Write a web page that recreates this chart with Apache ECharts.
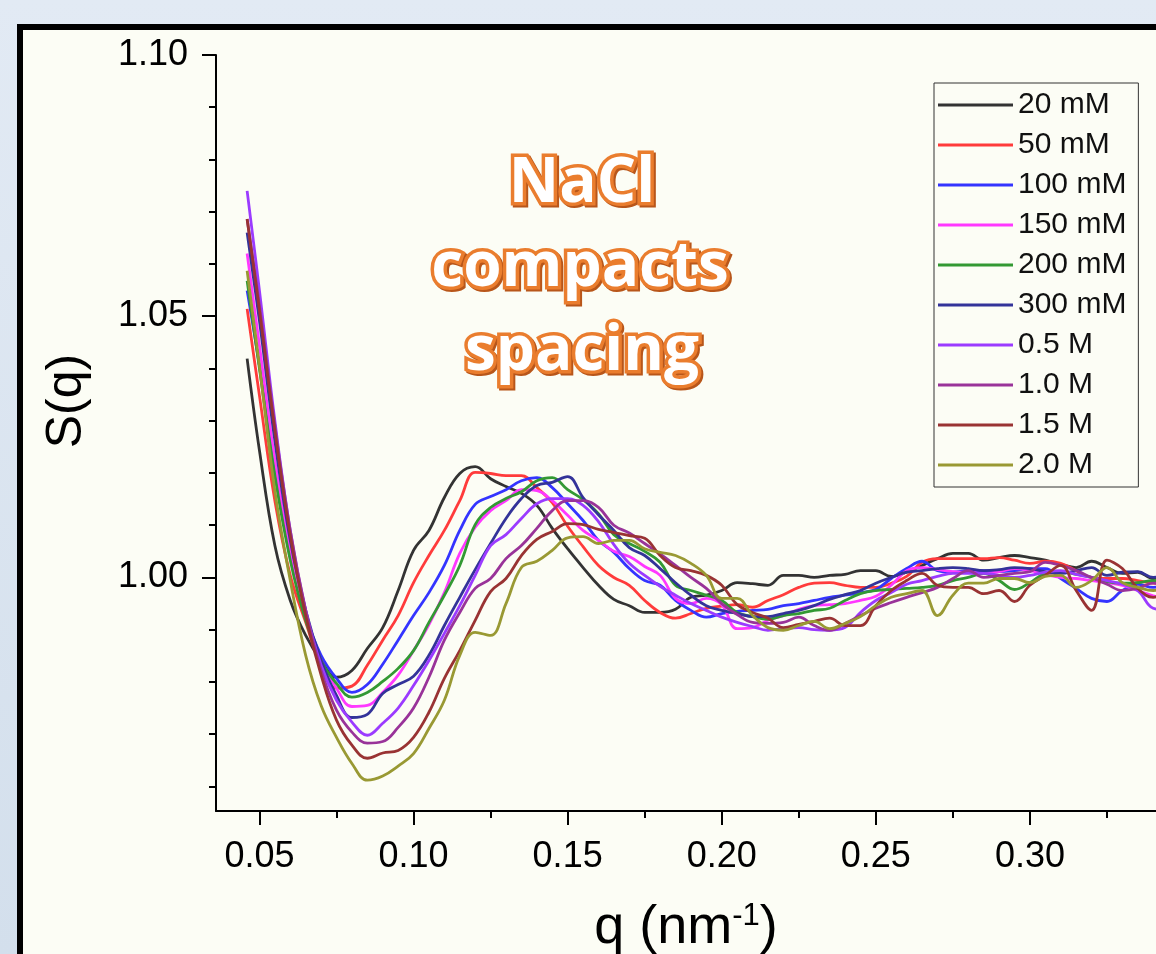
<!DOCTYPE html>
<html>
<head>
<meta charset="utf-8">
<script src="https://cdn.jsdelivr.net/npm/echarts@6/dist/echarts.min.js"></script>
<style>
html,body{margin:0;padding:0;background:#dae4f0;overflow:hidden;width:1156px;height:954px;}
#chart{width:1200px;height:954px;}
</style>
</head>
<body>
<div id="chart"></div>
<script>
// q (nm^-1)
var q = [0.046,0.05,0.055,0.06,0.065,0.07,0.075,0.08,0.085,0.09,0.095,0.10,0.105,0.11,0.115,0.12,0.125,0.13,0.135,0.14,0.145,0.15,0.155,0.16,0.165,0.17,0.175,0.18,0.185,0.19,0.195,0.20,0.205,0.21,0.215,0.22,0.225,0.23,0.235,0.24,0.245,0.25,0.255,0.26,0.265,0.27,0.275,0.28,0.285,0.29,0.295,0.30,0.305,0.31,0.315,0.32,0.325,0.33,0.335,0.34,0.345,0.35];

var seriesNames = ['20 mM','50 mM','100 mM','150 mM','200 mM','300 mM','0.5 M','1.0 M','1.5 M','2.0 M'];

var s20mM = [1.0419,1.0243,1.0061,0.9956,0.9889,0.9841,0.9809,0.9822,0.9864,0.9904,0.9975,1.0052,1.0090,1.0153,1.0199,1.0212,1.0189,1.0174,1.0161,1.0138,1.0094,1.0055,1.0019,0.9985,0.9958,0.9946,0.9933,0.9933,0.9939,0.9962,0.9966,0.9975,0.9990,0.9988,0.9985,1.0004,1.0004,1.0000,1.0004,1.0006,1.0013,1.0013,1.0002,1.0010,1.0023,1.0036,1.0046,1.0046,1.0033,1.0038,1.0042,1.0038,1.0033,1.0025,1.0019,1.0031,1.0019,1.0008,1.0010,0.9998,1.0004,1.0000];
var s50mM = [1.0514,1.0348,1.0147,1.0004,0.9914,0.9832,0.9788,0.9792,0.9832,0.9880,0.9927,0.9990,1.0042,1.0090,1.0147,1.0201,1.0199,1.0195,1.0195,1.0172,1.0143,1.0098,1.0059,1.0023,1.0000,0.9985,0.9956,0.9933,0.9922,0.9931,0.9941,0.9945,0.9948,0.9943,0.9956,0.9967,0.9981,0.9989,0.9990,0.9985,0.9981,0.9981,0.9989,1.0002,1.0029,1.0036,1.0036,1.0036,1.0036,1.0038,1.0033,1.0027,1.0031,1.0027,1.0013,1.0000,0.9998,0.9998,0.9994,0.9989,0.9987,0.9985];
var s100mM = [1.0549,1.0405,1.0205,1.0042,0.9927,0.9851,0.9807,0.9780,0.9795,0.9834,0.9880,0.9927,0.9971,1.0023,1.0090,1.0140,1.0155,1.0168,1.0185,1.0191,1.0172,1.0141,1.0109,1.0071,1.0048,1.0017,0.9994,0.9985,0.9956,0.9937,0.9924,0.9931,0.9935,0.9937,0.9939,0.9946,0.9950,0.9956,0.9962,0.9966,0.9971,0.9977,0.9998,1.0017,1.0031,1.0013,1.0010,1.0013,1.0013,1.0011,1.0013,1.0017,1.0017,0.9998,0.9979,0.9960,0.9954,0.9975,0.9987,0.9981,0.9985,0.9979];
var s150mM = [1.0620,1.0444,1.0224,1.0052,0.9927,0.9841,0.9788,0.9753,0.9755,0.9780,0.9813,0.9860,0.9910,0.9971,1.0046,1.0096,1.0128,1.0147,1.0168,1.0166,1.0147,1.0119,1.0090,1.0071,1.0050,1.0040,1.0021,1.0004,0.9960,0.9950,0.9960,0.9948,0.9902,0.9904,0.9918,0.9927,0.9939,0.9946,0.9948,0.9950,0.9956,0.9964,0.9985,1.0013,1.0019,1.0015,1.0011,1.0010,1.0008,1.0011,1.0017,1.0013,1.0006,1.0000,0.9998,0.9994,0.9990,0.9985,0.9975,0.9965,0.9960,0.9962];
var s200mM = [1.0568,1.0400,1.0195,1.0033,0.9918,0.9841,0.9797,0.9771,0.9780,0.9801,0.9826,0.9860,0.9914,0.9966,1.0023,1.0101,1.0134,1.0151,1.0164,1.0185,1.0191,1.0168,1.0149,1.0122,1.0082,1.0065,1.0050,1.0029,0.9985,0.9975,0.9966,0.9956,0.9933,0.9925,0.9920,0.9927,0.9931,0.9937,0.9941,0.9956,0.9969,0.9975,0.9977,0.9979,0.9981,0.9985,0.9994,1.0000,1.0008,0.9994,0.9977,0.9990,1.0008,1.0011,1.0006,1.0000,0.9992,0.9989,0.9990,0.9994,0.9994,0.9990];
var s300mM = [1.0660,1.0491,1.0262,1.0071,0.9937,0.9841,0.9774,0.9732,0.9738,0.9778,0.9795,0.9811,0.9851,0.9908,0.9962,1.0015,1.0065,1.0113,1.0151,1.0176,1.0182,1.0193,1.0153,1.0120,1.0090,1.0057,1.0042,1.0017,0.9990,0.9966,0.9946,0.9937,0.9931,0.9925,0.9925,0.9931,0.9937,0.9946,0.9958,0.9967,0.9975,0.9989,1.0000,1.0010,1.0013,1.0017,1.0019,1.0017,1.0013,1.0015,1.0019,1.0017,1.0011,1.0008,1.0013,1.0019,1.0004,1.0010,1.0011,1.0000,1.0004,1.0000];
var s05M = [1.0740,1.0549,1.0300,1.0090,0.9937,0.9832,0.9765,0.9723,0.9698,0.9721,0.9750,0.9793,0.9841,0.9893,0.9946,1.0004,1.0061,1.0082,1.0113,1.0141,1.0151,1.0151,1.0138,1.0107,1.0063,1.0027,1.0004,0.9983,0.9966,0.9950,0.9937,0.9924,0.9914,0.9906,0.9899,0.9902,0.9904,0.9900,0.9899,0.9904,0.9933,0.9956,0.9971,0.9987,0.9994,1.0002,1.0008,1.0008,1.0008,1.0004,1.0000,1.0004,1.0010,1.0013,1.0006,1.0000,0.9994,0.9987,0.9975,0.9941,0.9937,0.9933];
var s10M = [1.0686,1.0520,1.0291,1.0090,0.9937,0.9822,0.9746,0.9704,0.9683,0.9686,0.9713,0.9750,0.9809,0.9880,0.9933,0.9979,0.9998,1.0036,1.0061,1.0094,1.0128,1.0147,1.0147,1.0134,1.0100,1.0085,1.0065,1.0045,1.0023,1.0000,0.9979,0.9950,0.9929,0.9914,0.9912,0.9914,0.9924,0.9908,0.9899,0.9912,0.9927,0.9941,0.9952,0.9962,0.9971,0.9981,0.9998,1.0013,1.0000,1.0004,1.0008,1.0011,1.0029,1.0023,1.0013,1.0000,0.9987,0.9975,0.9979,0.9989,0.9985,0.9989];
var s15M = [1.0686,1.0511,1.0281,1.0080,0.9927,0.9813,0.9727,0.9679,0.9654,0.9664,0.9669,0.9694,0.9742,0.9807,0.9860,0.9918,0.9973,0.9998,1.0042,1.0073,1.0088,1.0103,1.0101,1.0092,1.0086,1.0080,1.0075,1.0042,1.0019,1.0013,1.0004,0.9985,0.9948,0.9933,0.9922,0.9904,0.9910,0.9916,0.9922,0.9908,0.9908,0.9946,0.9975,0.9994,1.0008,0.9985,0.9981,0.9981,0.9969,0.9975,0.9954,0.9985,1.0004,1.0023,0.9975,0.9937,1.0033,1.0017,0.9979,0.9962,0.9975,0.9985];
var s20M = [1.0587,1.0405,1.0166,0.9994,0.9851,0.9755,0.9694,0.9644,0.9612,0.9620,0.9639,0.9663,0.9711,0.9765,0.9851,0.9895,0.9889,0.9950,1.0019,1.0031,1.0052,1.0076,1.0078,1.0065,1.0071,1.0071,1.0055,1.0048,1.0042,1.0027,1.0004,0.9960,0.9960,0.9927,0.9904,0.9899,0.9908,0.9916,0.9902,0.9912,0.9925,0.9946,0.9962,0.9969,0.9975,0.9927,0.9966,0.9989,0.9989,0.9998,0.9998,0.9990,1.0002,1.0004,0.9981,0.9994,1.0019,0.9990,0.9981,0.9975,0.9979,0.9985];

var seriesValues = [s20mM, s50mM, s100mM, s150mM, s200mM, s300mM, s05M, s10M, s15M, s20M];
var seriesColors = ['#333333','#ff3b3b','#3434ff','#ff38ff','#339933','#333399','#9b3bff','#993399','#993333','#999933'];

var xMajor = [0.05,0.10,0.15,0.20,0.25,0.30,0.35];
var xLabels = [0.05,0.10,0.15,0.20,0.25,0.30];
var xMinor = [0.075,0.125,0.175,0.225,0.275,0.325];
var yMajor = [1.00,1.05,1.10];
var yMinor = [0.96,0.97,0.98,0.99,1.01,1.02,1.03,1.04,1.06,1.07,1.08,1.09];
var noteLines = ['NaCl', 'compacts', 'spacing'];

var FONT = 'Liberation Sans, Arial, sans-serif';
var cream = '#fcfdf5';

var series = seriesNames.map(function (name, i) {
  return {
    name: name,
    type: 'line',
    xAxisIndex: 0,
    yAxisIndex: 0,
    data: q.map(function (x, k) { return [x, seriesValues[i][k]]; }),
    showSymbol: false,
    smooth: 0.4,
    color: seriesColors[i],
    lineStyle: { width: 2.8, color: seriesColors[i] },
    emphasis: { disabled: true },
    z: 2 + i
  };
});

// annotation: outlined orange word-art text
var noteX = [582, 580, 582];
var noteY = [184, 268, 352];
var noteGraphics = [];
noteLines.forEach(function (t, i) {
  var base = { text: t, font: 'bold 62px "Open Sans"', align: 'center', verticalAlign: 'middle' };
  noteGraphics.push({ type: 'text', z: 100, x: noteX[i] + 2, y: noteY[i] + 2,
    style: Object.assign({}, base, { fill: '#b8561a', stroke: '#b8561a', lineWidth: 7, lineJoin: 'round' }) });
  noteGraphics.push({ type: 'text', z: 101, x: noteX[i], y: noteY[i],
    style: Object.assign({}, base, { fill: '#ea7d2e', stroke: '#ea7d2e', lineWidth: 7, lineJoin: 'round' }) });
  noteGraphics.push({ type: 'text', z: 102, x: noteX[i], y: noteY[i],
    style: Object.assign({}, base, { fill: '#ffffff' }) });
});

var chart = echarts.init(document.getElementById('chart'), null, { renderer: 'canvas' });
chart.setOption({
  animation: false,
  backgroundColor: 'transparent',
  graphic: [
    { type: 'rect', z: -100, shape: { x: 0, y: 0, width: 1200, height: 954 },
      style: { fill: { type: 'linear', x: 0, y: 0, x2: 0, y2: 1,
        colorStops: [{ offset: 0, color: '#e2eaf4' }, { offset: 1, color: '#d3dfec' }] } } },
    { type: 'rect', z: -99, shape: { x: 20, y: 27, width: 1240, height: 1000 },
      style: { fill: cream, stroke: '#000', lineWidth: 6 } }
  ].concat(noteGraphics),
  legend: {
    data: seriesNames,
    orient: 'vertical',
    left: 934,
    top: 83,
    padding: [7, 12, 7, 4],
    itemGap: 10,
    itemWidth: 75,
    itemHeight: 3,
    icon: 'rect',
    backgroundColor: cream,
    borderColor: '#333',
    borderWidth: 1,
    textStyle: { fontFamily: FONT, fontSize: 30, lineHeight: 30, color: '#111' },
    selectedMode: false
  },
  grid: { left: 216, top: 55, right: 16, bottom: 143, containLabel: false, outerBoundsMode: 'none' },
  xAxis: [
    {
      type: 'value', min: 0.0359, max: 0.35, position: 'bottom',
      name: 'q (nm{sup|-1})', nameLocation: 'middle', nameGap: 90,
      nameTextStyle: { fontFamily: FONT, fontSize: 54, color: '#000', padding: [0, 28, 0, 0],
        rich: { sup: { fontFamily: FONT, fontSize: 31, verticalAlign: 'top', color: '#000' } } },
      axisLine: { show: true, lineStyle: { color: '#000', width: 2 } },
      axisTick: { show: true, inside: false, length: 14, customValues: xMajor, lineStyle: { color: '#000', width: 2 } },
      axisLabel: { customValues: xLabels, margin: 28, fontFamily: FONT, fontSize: 36, color: '#000',
        formatter: function (v) { return v.toFixed(2); } },
      splitLine: { show: false }
    },
    {
      type: 'value', min: 0.0359, max: 0.35, position: 'bottom',
      axisLine: { show: false },
      axisTick: { show: true, inside: false, length: 7, customValues: xMinor, lineStyle: { color: '#000', width: 2 } },
      axisLabel: { show: false },
      splitLine: { show: false }
    }
  ],
  yAxis: [
    {
      type: 'value', min: 0.9553, max: 1.10, position: 'left',
      name: 'S(q)', nameLocation: 'middle', nameGap: 124,
      nameTextStyle: { fontFamily: FONT, fontSize: 50, color: '#000', padding: [0, 0, 0, 64] },
      axisLine: { show: true, lineStyle: { color: '#000', width: 2 } },
      axisTick: { show: true, inside: false, length: 14, customValues: yMajor, lineStyle: { color: '#000', width: 2 } },
      axisLabel: { customValues: yMajor, margin: 28, fontFamily: FONT, fontSize: 36, color: '#000',
        formatter: function (v) { return v.toFixed(2); } },
      splitLine: { show: false }
    },
    {
      type: 'value', min: 0.9553, max: 1.10, position: 'left',
      axisLine: { show: false },
      axisTick: { show: true, inside: false, length: 7, customValues: yMinor, lineStyle: { color: '#000', width: 2 } },
      axisLabel: { show: false },
      splitLine: { show: false }
    }
  ],
  series: series
});
</script>
</body>
</html>
